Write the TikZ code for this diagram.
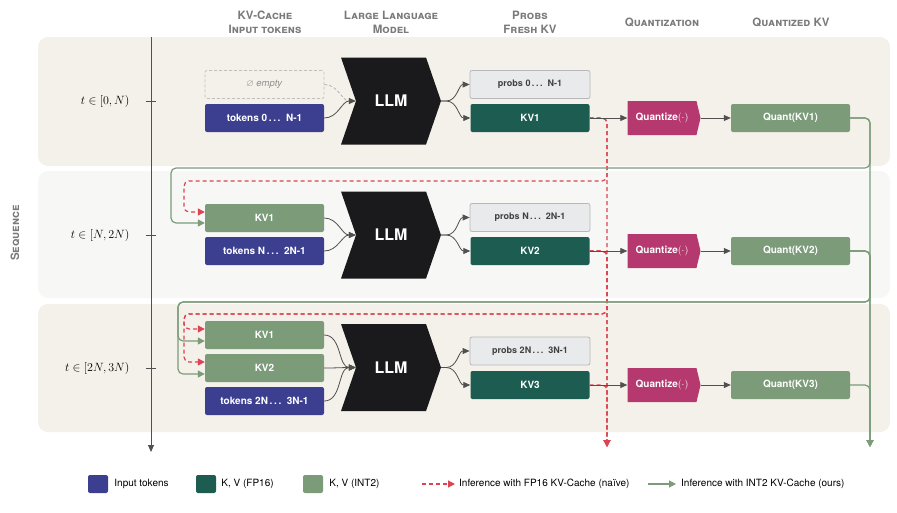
\documentclass[tikz,border=0pt]{standalone}
\usepackage{amsmath}
\usepackage{amssymb}
\usepackage{fontspec}
\setmainfont{TeX Gyre Heros}
\usepackage{tikz}
\usetikzlibrary{arrows.meta, positioning, shapes.symbols}

\definecolor{bandwarm}{HTML}{F4F1EA}
\definecolor{bandcool}{HTML}{F7F7F5}
\definecolor{tokblue}{HTML}{3C3F8F}
\definecolor{freshgreen}{HTML}{1D5C50}
\definecolor{sage}{HTML}{7B9B79}
\definecolor{qmag}{HTML}{B5396F}
\definecolor{probgray}{HTML}{E9EAEC}
\definecolor{probedge}{HTML}{B8B8BA}
\definecolor{llmblack}{HTML}{1A1A1D}
\definecolor{naivered}{HTML}{DB4450}
\definecolor{arrgray}{HTML}{505050}
\definecolor{headgray}{HTML}{7A7A7A}

\begin{document}
\begin{tikzpicture}[x=1pt, y=-1pt,
  cell/.style={rectangle, rounded corners=2pt, minimum width=119pt, minimum height=28pt, inner sep=0pt, text=white, font=\bfseries\fontsize{10}{12}\selectfont},
  tok/.style={cell, fill=tokblue},
  fresh/.style={cell, fill=freshgreen},
  cached/.style={cell, fill=sage},
  prob/.style={cell, minimum width=120pt, fill=probgray, draw=probedge, line width=0.8pt, text=black!75, font=\bfseries\fontsize{9}{11}\selectfont},
  emptycell/.style={cell, draw=black!25, dash pattern=on 3pt off 2pt, line width=0.7pt, text=black!45, font=\fontsize{9.5}{11}\selectfont},
  llm/.style={signal, signal to=east, signal from=west, signal pointer angle=142, fill=llmblack, text=white, minimum width=100pt, minimum height=87pt, inner sep=0pt, font=\bfseries\fontsize{16}{18}\selectfont},
  qz/.style={signal, signal to=east, signal pointer angle=153, fill=qmag, text=white, minimum width=73pt, minimum height=34pt, inner sep=0pt, font=\bfseries\fontsize{10}{12}\selectfont},
  flow/.style={draw=arrgray, line width=0.8pt, -{Triangle[length=7pt, width=6pt]}},
  naive/.style={draw=naivered, line width=1.2pt, dash pattern=on 4pt off 3pt, rounded corners=5pt, -{Triangle[length=7pt, width=7pt]}},
  ours/.style={draw=sage, line width=1.2pt, rounded corners=5pt, -{Triangle[length=7pt, width=7pt]}},
  head/.style={text=headgray, align=center, font=\bfseries\scshape\fontsize{11.5}{14}\selectfont},
  tlbl/.style={anchor=east, font=\fontsize{11.5}{13}\selectfont},
  legsq/.style={rectangle, rounded corners=2pt, minimum width=20pt, minimum height=18pt, inner sep=0pt},
  legtxt/.style={inner sep=0pt, font=\fontsize{10}{12}\selectfont}]
\useasboundingbox (0,0) rectangle (897,512);

\fill[bandwarm, rounded corners=10pt] (38,37) rectangle (890,166);
\fill[bandcool, rounded corners=10pt] (38,171) rectangle (890,298);
\fill[bandwarm, rounded corners=10pt] (38,304) rectangle (890,432);

\node[head] (hin) at (265,22) {KV-Cache\\Input tokens};
\node[head] (hllm) at (391,22) {Large Language\\Model};
\node[head] (hout) at (530,22) {Probs\\Fresh KV};
\node[head] (hq) at (662,22) {Quantization};
\node[head] (hqkv) at (791,22) {Quantized KV};
\node[head, rotate=90] (seq) at (15,233) {Sequence};

\coordinate (axtop) at (151,37);
\coordinate (axbot) at (151,452);
\draw[arrgray, line width=0.8pt, -{Triangle[length=7pt, width=6pt]}] (axtop) -- (axbot);
\node[tlbl] (t1) at (133,101) {$t\in[0,N)$};
\node[tlbl] (t2) at (133,235) {$t\in[N,2N)$};
\node[tlbl] (t3) at (133,368) {$t\in[2N,3N)$};
\draw[arrgray, line width=0.8pt] (146,101) -- (156,101) (146,235) -- (156,235) (146,368) -- (156,368);

\node[emptycell] (empty1) at (264.5,84.5) {$\varnothing$ \textit{empty}};
\node[tok] (tok1) at (264.5,118) {tokens 0\,.\,.\,.\ \ N-1};
\node[llm] (llm1) at (391,101) {LLM};
\node[prob] (prob1) at (530,84.5) {probs 0\,.\,.\,.\ \ N-1};
\node[fresh] (kv11) at (530,118) {KV1};
\node[qz] (qz1) at (662,118) {Quantize$(\cdot)$};
\node[cached] (qkv1) at (790.5,118) {Quant(KV1)};

\node[cached] (kv21) at (264.5,218) {KV1};
\node[tok] (tok2) at (264.5,251) {tokens N\,.\,.\,.\ \ 2N-1};
\node[llm] (llm2) at (391,235) {LLM};
\node[prob] (prob2) at (530,217.5) {probs N\,.\,.\,.\ \ 2N-1};
\node[fresh] (kv22) at (530,251) {KV2};
\node[qz] (qz2) at (662,251) {Quantize$(\cdot)$};
\node[cached] (qkv2) at (790.5,251) {Quant(KV2)};

\node[cached] (kv31) at (264.5,335) {KV1};
\node[cached] (kv32) at (264.5,368) {KV2};
\node[tok] (tok3) at (264.5,401) {tokens 2N\,.\,.\,.\ \ 3N-1};
\node[llm] (llm3) at (391,367.5) {LLM};
\node[prob] (prob3) at (530,351) {probs 2N\,.\,.\,.\ \ 3N-1};
\node[fresh] (kv33) at (530,385) {KV3};
\node[qz] (qz3) at (662,385) {Quantize$(\cdot)$};
\node[cached] (qkv3) at (790.5,385) {Quant(KV3)};

\draw[flow, draw=black!30, dash pattern=on 3pt off 2pt] (empty1.east) to[out=0, in=180] (llm1.west);
\draw[flow] (tok1.east) to[out=0, in=180] (llm1.west);
\draw[flow] (kv21.east) to[out=0, in=180] (llm2.west);
\draw[flow] (tok2.east) to[out=0, in=180] (llm2.west);
\draw[flow] (kv31.east) to[out=0, in=180] (llm3.west);
\draw[flow] (kv32.east) to[out=0, in=180] (llm3.west);
\draw[flow] (tok3.east) to[out=0, in=180] (llm3.west);

\draw[flow] (llm1.east) -- ++(5,0) to[out=0, in=180] (prob1.west);
\draw[flow] (llm1.east) -- ++(5,0) to[out=0, in=180] (kv11.west);
\draw[flow] (llm2.east) -- ++(5,0) to[out=0, in=180] (prob2.west);
\draw[flow] (llm2.east) -- ++(5,0) to[out=0, in=180] (kv22.west);
\draw[flow] (llm3.east) -- ++(5,0) to[out=0, in=180] (prob3.west);
\draw[flow] (llm3.east) -- ++(5,0) to[out=0, in=180] (kv33.west);

\coordinate (rbot) at (607,447);
\coordinate (gbot) at (870,447);
\draw[naive] (kv11.east) -| (rbot);
\draw[naive] (kv22.east) -| (rbot);
\draw[naive] (kv33.east) -| (rbot);
\draw[naive] (kv11.east) -| (607,181) -- (184,181) |- ([yshift=6pt]kv21.west);
\draw[naive] (kv22.east) -| (607,314) -- (184,314) |- ([yshift=6pt]kv31.west);
\draw[naive] (kv22.east) -| (607,314) -- (184,314) |- ([yshift=6pt]kv32.west);

\draw[ours] (qkv1.east) -| (gbot);
\draw[ours] (qkv2.east) -| (gbot);
\draw[ours] (qkv3.east) -| (gbot);
\draw[ours] (qkv1.east) -| (870,168) -- (171,168) |- ([yshift=-5pt]kv21.west);
\draw[ours] (qkv2.east) -| (870,302) -- (178,302) |- ([yshift=-6pt]kv31.west);
\draw[ours] (qkv2.east) -| (870,302) -- (178,302) |- ([yshift=-6pt]kv32.west);

\draw[flow] (kv11.east) -- (qz1.west);
\draw[flow] (qz1.east) -- (qkv1.west);
\draw[flow] (kv22.east) -- (qz2.west);
\draw[flow] (qz2.east) -- (qkv2.west);
\draw[flow] (kv33.east) -- (qz3.west);
\draw[flow] (qz3.east) -- (qkv3.west);

\node[legsq, fill=tokblue] (legtok) at (98,484) {};
\node[legtxt, right=6pt of legtok] (legtoktxt) {Input tokens};
\node[legsq, fill=freshgreen] (legfp) at (206,484) {};
\node[legtxt, right=5pt of legfp] (legfptxt) {K, V (FP16)};
\node[legsq, fill=sage] (legint) at (313,484) {};
\node[legtxt, right=6pt of legint] (leginttxt) {K, V (INT2)};
\coordinate (legna) at (422,484);
\node[legtxt, anchor=west] (legnatxt) at (459,484) {Inference with FP16 KV-Cache (naïve)};
\draw[naive] (legna) -- ([xshift=-4pt]legnatxt.west);
\coordinate (legours) at (648,484);
\node[legtxt, anchor=west] (legourstxt) at (681,484) {Inference with INT2 KV-Cache (ours)};
\draw[ours] (legours) -- ([xshift=-5pt]legourstxt.west);
\end{tikzpicture}
\end{document}
